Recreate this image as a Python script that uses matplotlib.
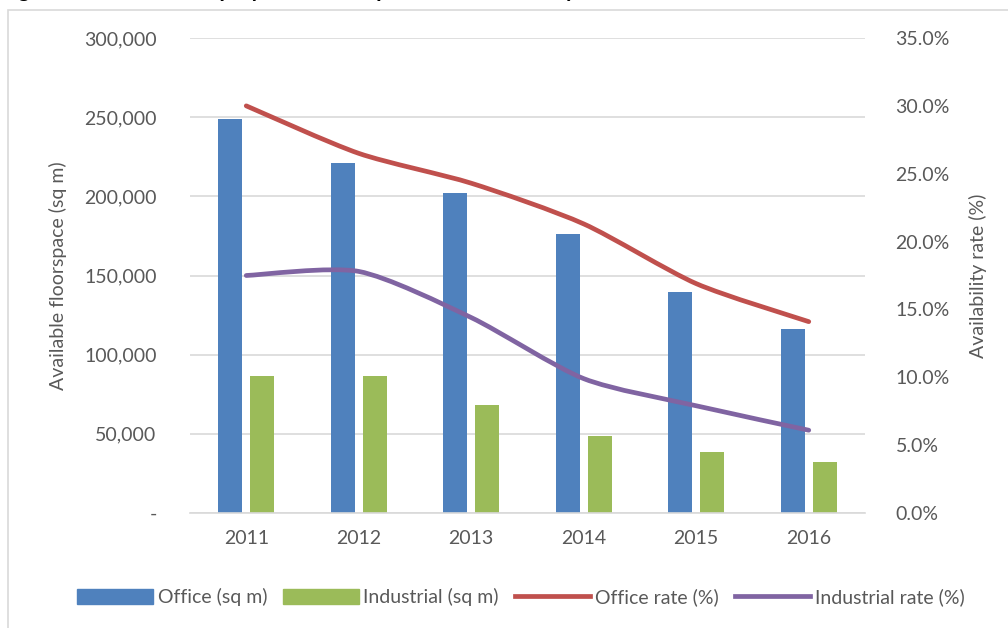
import matplotlib
matplotlib.use("Agg")
import matplotlib.pyplot as plt
from matplotlib.path import Path
from matplotlib.patches import PathPatch, Patch, Rectangle
from matplotlib.lines import Line2D
from matplotlib.ticker import FuncFormatter
import numpy as np

years = ["2011", "2012", "2013", "2014", "2015", "2016"]
office_sqm = [249000, 221000, 202000, 176000, 139500, 116500]
industrial_sqm = [86500, 86500, 68500, 48500, 38500, 32000]
office_rate = [30.0, 26.5, 24.3, 21.3, 16.9, 14.1]
industrial_rate = [17.5, 17.8, 14.4, 9.9, 7.9, 6.1]

plt.rcParams['font.family'] = ['Lato', 'DejaVu Sans']
TXT = '#595959'
C_OFF = '#4F81BD'
C_IND = '#9BBB59'
C_ORATE = '#C0504D'
C_IRATE = '#8064A2'
FS = 14

fig = plt.figure(figsize=(10.08, 6.28), dpi=100)
# chart frame
fig.patches.append(Rectangle((8/1008, -0.01), 1.0, 1 - 10/628 + 0.01, transform=fig.transFigure,
                             fill=False, edgecolor='#D9D9D9', linewidth=1.2))
fig.text(0.0, 1 + 3/628, "Figure 4: Available employment floorspace and availability rates",
         fontsize=16, fontweight='bold', color='black', va='baseline', ha='left')

ax = fig.add_axes([190/1008, 1 - 513/628, 675/1008, 475/628])
ax2 = ax.twinx()

x = np.arange(len(years))
w = 0.215
off = 0.142
ax.bar(x - off, office_sqm, w, color=C_OFF, zorder=2)
ax.bar(x + off, industrial_sqm, w, color=C_IND, zorder=2)

ax.set_xlim(-0.5, len(years) - 0.5)
ax.set_ylim(0, 300000)
ax.set_yticks(np.arange(0, 300001, 50000))
ax.yaxis.set_major_formatter(FuncFormatter(lambda v, p: '-' if v == 0 else f"{int(v):,}"))
ax.set_xticks(x)
ax.set_xticklabels(years)
ax.grid(axis='y', color='#D9D9D9', linewidth=1.2, zorder=0)
ax.set_axisbelow(True)
for s in ['top', 'left', 'right']:
    ax.spines[s].set_visible(False)
    ax2.spines[s].set_visible(False)
ax.spines['bottom'].set_color('#D9D9D9')
ax.spines['bottom'].set_linewidth(1.2)
ax2.spines['bottom'].set_visible(False)
ax.tick_params(axis='both', length=0, labelsize=FS, labelcolor=TXT)
ax.tick_params(axis='y', pad=24)
ax.tick_params(axis='x', pad=12)
ax.set_ylabel("Available floorspace (sq m)", fontsize=FS, color=TXT, labelpad=12)

ax2.set_ylim(0, 35)
ax2.set_yticks(np.arange(0, 35.1, 5))
ax2.yaxis.set_major_formatter(FuncFormatter(lambda v, p: f"{v:.1f}%"))
ax2.tick_params(axis='y', length=0, labelsize=FS, labelcolor=TXT, pad=22)
ax2.set_ylabel("Availability rate (%)", fontsize=FS, color=TXT, labelpad=14)


def smooth_path(xs, ys, k=1/8):
    xs = np.asarray(xs, float)
    ys = np.asarray(ys, float)
    pts = np.column_stack([xs, ys])
    n = len(pts)
    verts = [pts[0]]
    codes = [Path.MOVETO]
    for i in range(n - 1):
        p0 = pts[i - 1] if i > 0 else pts[i]
        p1 = pts[i]
        p2 = pts[i + 1]
        p3 = pts[i + 2] if i + 2 < n else pts[i + 1]
        c1 = p1 + (p2 - p0) * k
        c2 = p2 - (p3 - p1) * k
        verts += [c1, c2, p2]
        codes += [Path.CURVE4] * 3
    return Path(verts, codes)


for ys, c in [(office_rate, C_ORATE), (industrial_rate, C_IRATE)]:
    pp = PathPatch(smooth_path(x, ys), facecolor='none', edgecolor=c, linewidth=3.4,
                   capstyle='round', joinstyle='round', zorder=3)
    ax2.add_patch(pp)

handles = [Patch(color=C_OFF), Patch(color=C_IND),
           Line2D([], [], color=C_ORATE, linewidth=3.4),
           Line2D([], [], color=C_IRATE, linewidth=3.4)]
labels = ["Office (sq m)", "Industrial (sq m)", "Office rate (%)", "Industrial rate (%)"]
fig.legend(handles, labels, loc='center', bbox_to_anchor=(521/1008, 1 - 597/628), ncol=4,
           frameon=False, fontsize=FS, labelcolor=TXT, handlelength=3.9, handleheight=0.85,
           handletextpad=0.25, columnspacing=0.8)

fig.savefig("out.png", dpi=100)
